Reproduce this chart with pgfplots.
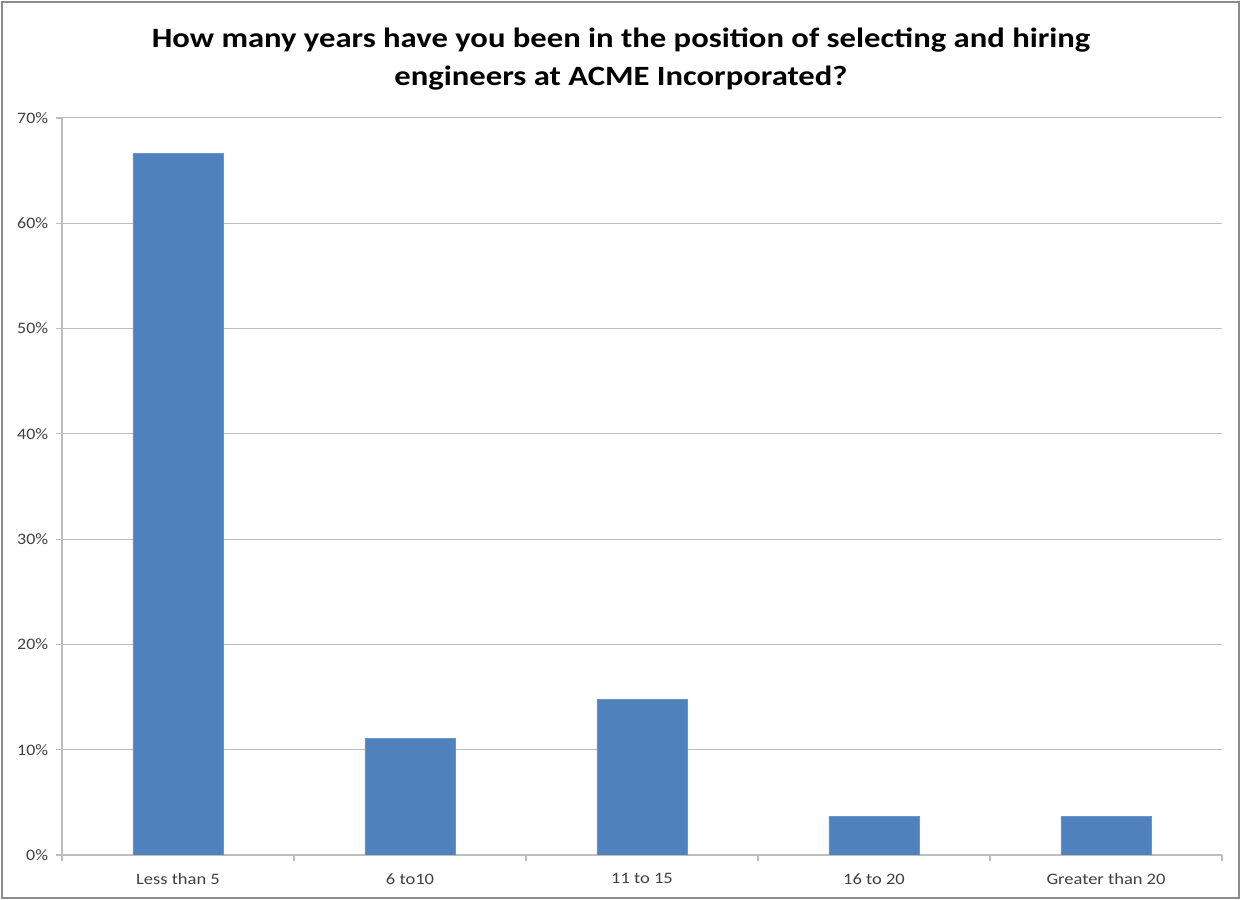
\documentclass[border=0pt]{standalone}
\usepackage{pgfplots}
\pgfplotsset{compat=1.18}
\usepackage{fontspec}
\setmainfont{Carlito}
\definecolor{barblue}{HTML}{4F81BD}
\definecolor{gridgray}{HTML}{BEBEBE}
\definecolor{labelgray}{HTML}{404040}
\definecolor{framegray}{HTML}{8C8C8C}
\begin{document}
\begin{tikzpicture}[x=1bp,y=1bp]
\path[use as bounding box] (0,0) rectangle (1242,900);
\draw[color=framegray, line width=1.2bp] (2,2) rectangle (1239,898);
\node[align=center, font=\bfseries\fontsize{28}{39}\selectfont, text=black, xscale=1.17] at (621,841)
  {How many years have you been in the position of selecting and hiring\\engineers at ACME Incorporated?};
\begin{axis}[
  at={(62bp,45bp)}, anchor=south west,
  scale only axis, width=1160bp, height=737bp,
  ymin=0, ymax=70, xmin=-0.5, xmax=4.5,
  ytick={0,10,20,30,40,50,60,70},
  yticklabels={0\%,10\%,20\%,30\%,40\%,50\%,60\%,70\%},
  xtick={-0.5,0.5,1.5,2.5,3.5,4.5},
  x tick label as interval,
  xticklabels={Less than 5,6 to10,11 to 15,16 to 20,Greater than 20},
  axis x line*=bottom, axis y line*=left,
  axis line style={gridgray, line width=1.2bp},
  ymajorgrids, major grid style={gridgray, line width=1bp},
  tick align=outside, major tick length=6bp,
  tick style={gridgray, line width=1.2bp},
  tick label style={font=\fontsize{16}{19}\selectfont, text=labelgray},
  xticklabel style={yshift=-9bp, xscale=1.16},
  yticklabel style={xshift=-4bp, xscale=1.12},
  ybar, bar width=0.39,
]
\addplot[fill=barblue, draw=barblue!85!white] coordinates {(0,66.67) (1,11.11) (2,14.81) (3,3.70) (4,3.70)};
\end{axis}
\end{tikzpicture}
\end{document}
